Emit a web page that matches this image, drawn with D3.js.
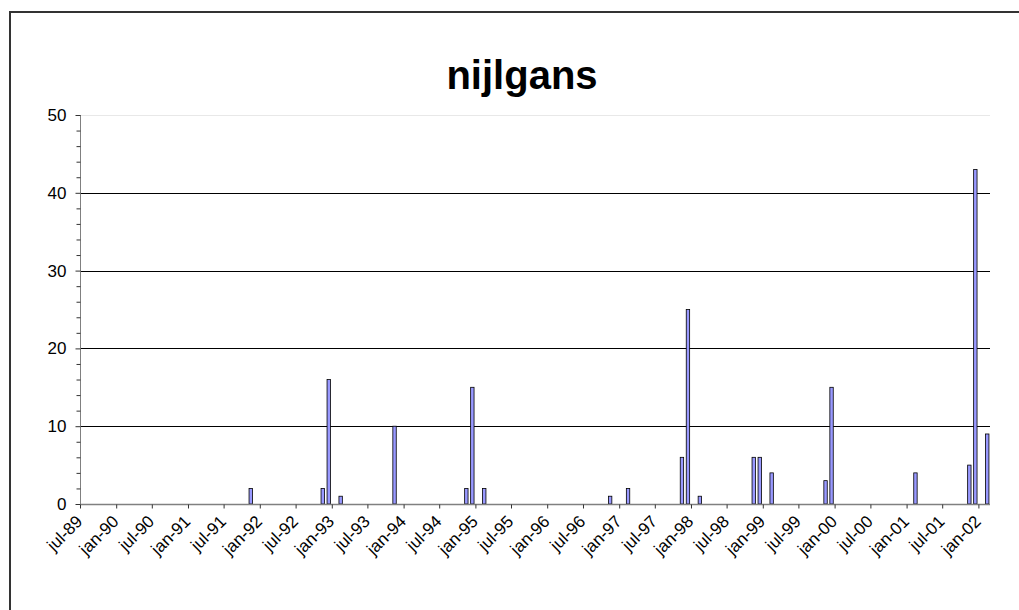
<!DOCTYPE html>
<html>
<head>
<meta charset="utf-8">
<script src="https://cdn.jsdelivr.net/npm/d3@7"></script>
<style>
  body { margin: 0; background: #fff; }
  text { font-family: Arial, "Liberation Sans", sans-serif; }
</style>
</head>
<body>
<div id="chart"></div>
<script>
// data: month of count, number of birds
var months = ["1991-11", "1992-11", "1992-12", "1993-02", "1993-11", "1994-11", "1994-12", "1995-02",
              "1996-11", "1997-02", "1997-11", "1997-12", "1998-02", "1998-11", "1998-12", "1999-02",
              "1999-11", "1999-12", "2001-02", "2001-11", "2001-12", "2002-02"];
var counts = [2, 2, 16, 1, 10, 2, 15, 2,
              1, 2, 6, 25, 1, 6, 6, 4,
              3, 15, 4, 5, 43, 9];
var tickLabels = ["jul-89", "jan-90", "jul-90", "jan-91", "jul-91", "jan-92", "jul-92", "jan-93", "jul-93",
                  "jan-94", "jul-94", "jan-95", "jul-95", "jan-96", "jul-96", "jan-97", "jul-97", "jan-98",
                  "jul-98", "jan-99", "jul-99", "jan-00", "jul-00", "jan-01", "jul-01", "jan-02"];
var yTicks = [0, 10, 20, 30, 40, 50];
var title = "nijlgans";

var svgW = 1019, svgH = 610;
var margin = {top: 115, left: 80, right: 29, bottom: 106};
var chartW = svgW - margin.left - margin.right;
var chartH = svgH - margin.top - margin.bottom;

var parseMonth = d3.timeParse("%Y-%m");
var nl = ["jan", "feb", "mrt", "apr", "mei", "jun", "jul", "aug", "sep", "okt", "nov", "dec"];
function parseLabel(s) {
    var p = s.split("-");
    var yy = +p[1];
    return new Date(yy < 50 ? 2000 + yy : 1900 + yy, nl.indexOf(p[0]), 1);
}

var svg = d3.select("#chart").append("svg")
    .attr("width", svgW)
    .attr("height", svgH);

// outer chart border
svg.append("rect")
    .attr("x", 10).attr("y", 12)
    .attr("width", svgW).attr("height", svgH)
    .attr("fill", "none")
    .attr("stroke", "#333")
    .attr("stroke-width", 2);

svg.append("text")
    .attr("x", 522).attr("y", 89)
    .attr("text-anchor", "middle")
    .attr("font-size", 40)
    .attr("font-weight", "bold")
    .text(title);

var chart = svg.append("g")
    .attr("transform", `translate(${margin.left},${margin.top})`);

var xscale = d3.scaleTime()
    .domain([parseLabel(tickLabels[0]), d3.timeMonth.offset(parseLabel(tickLabels[tickLabels.length - 1]), 2)])
    .range([0, chartW]);
var yscale = d3.scaleLinear()
    .domain([0, 50])
    .range([chartH, 0]);

// gridlines
chart.selectAll(".grid")
    .data(yTicks.slice(1))
    .enter()
    .append("line")
    .attr("x1", 0).attr("x2", chartW)
    .attr("y1", d => Math.round(yscale(d)) + 0.5)
    .attr("y2", d => Math.round(yscale(d)) + 0.5)
    .attr("stroke", d => d == 50 ? "#e8e8e8" : "#000")
    .attr("stroke-width", 1);

// bars, centred in their month slot
var barW = 3.4;
chart.selectAll("rect.bar")
    .data(counts)
    .enter()
    .append("rect")
    .classed("bar", true)
    .attr("x", function (d, i) {
        var m = parseMonth(months[i]);
        var c = (xscale(m) + xscale(d3.timeMonth.offset(m, 1))) / 2;
        return c - barW / 2;
    })
    .attr("y", d => yscale(d))
    .attr("width", barW)
    .attr("height", d => chartH - yscale(d))
    .attr("fill", "#9999ff")
    .attr("stroke", "#000")
    .attr("stroke-width", 0.8);

// y axis with minor ticks every 2
var yaxis = d3.axisLeft(yscale)
    .tickValues(d3.range(0, 51, 2))
    .tickSize(5)
    .tickFormat(d => yTicks.includes(d) ? d : "");
var yl = chart.append("g")
    .attr("transform", "translate(0.5,0)")
    .call(yaxis);
yl.select(".domain").attr("stroke", "#808080").attr("d", `M-0,${chartH}V0`);
yl.selectAll(".tick line").attr("stroke", "#333");
yl.selectAll(".tick").filter(d => !yTicks.includes(d)).select("line").attr("x2", -4);
yl.selectAll(".tick text")
    .attr("x", -14)
    .attr("font-size", 17)
    .attr("font-family", "Arial, 'Liberation Sans', sans-serif")
    .attr("fill", "#000");

// x axis
var xaxis = d3.axisBottom(xscale)
    .tickValues(tickLabels.map(parseLabel))
    .tickSize(4)
    .tickFormat((d, i) => tickLabels[i]);
var xa = chart.append("g")
    .attr("transform", `translate(0,${chartH + 0.5})`)
    .call(xaxis);
xa.select(".domain").attr("stroke", "#808080").attr("stroke-width", 1.5).attr("d", `M0,0H${chartW}`);
xa.selectAll(".tick line").attr("stroke", "#333");
xa.selectAll(".tick text")
    .attr("font-size", 17)
    .attr("font-family", "Arial, 'Liberation Sans', sans-serif")
    .attr("fill", "#000")
    .attr("text-anchor", "end")
    .attr("dy", null)
    .attr("y", 0)
    .attr("transform", "translate(3,18) rotate(-45)");
</script>
</body>
</html>
